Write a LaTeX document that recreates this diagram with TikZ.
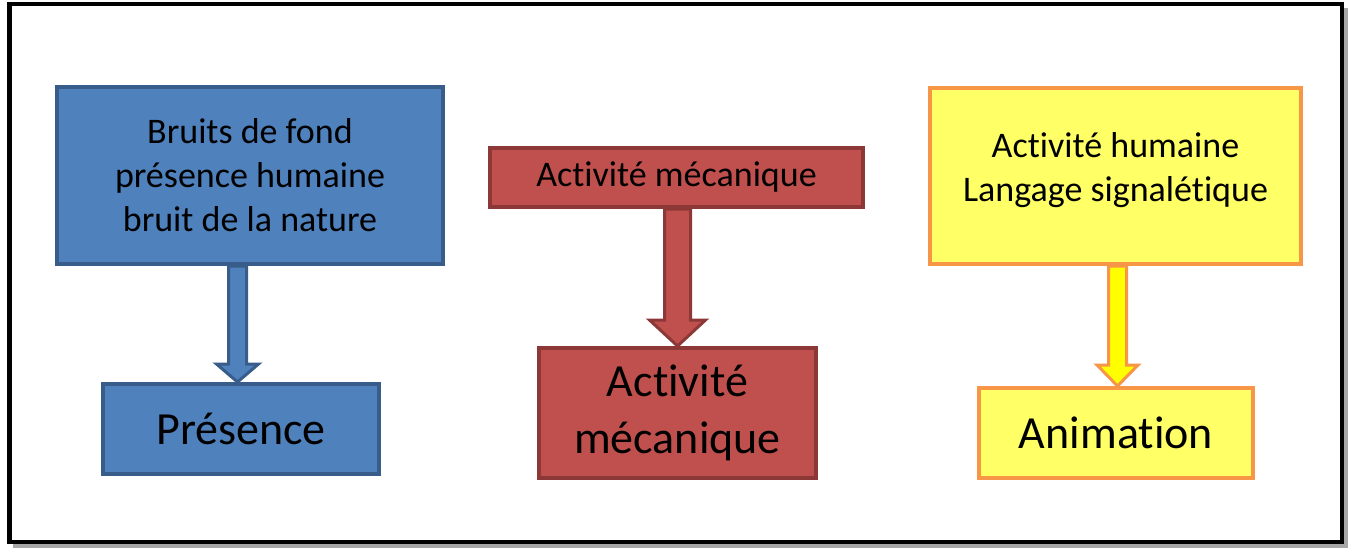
\documentclass[tikz,border=0pt]{standalone}
\usepackage{fontspec}
\setmainfont{Carlito}[Ligatures=NoCommon]
\usetikzlibrary{calc}
\definecolor{bluefill}{HTML}{4F81BD}
\definecolor{blueline}{HTML}{385D8A}
\definecolor{redfill}{HTML}{C0504D}
\definecolor{redline}{HTML}{8C3836}
\definecolor{yelfill}{HTML}{FFFF66}
\definecolor{yelarrow}{HTML}{FFFF00}
\definecolor{orangeline}{HTML}{F79646}
\definecolor{framegray}{HTML}{A6A6A6}
\begin{document}
\begin{tikzpicture}[x=1pt,y=-1pt,
  box/.style={draw, rectangle, align=center, inner sep=0pt, text=black, line width=4pt},
  small/.style={font=\fontsize{36}{44}\selectfont},
  big/.style={font=\fontsize{46}{57}\selectfont},
  bluebox/.style={box, fill=bluefill, draw=blueline},
  redbox/.style={box, fill=redfill, draw=redline},
  yelbox/.style={box, fill=yelfill, draw=orangeline},
  bluearrow/.style={fill=bluefill, draw=blueline, line width=3pt, line join=miter},
  redarrow/.style={fill=redfill, draw=redline, line width=3pt, line join=miter},
  yelarrowst/.style={fill=yelarrow, draw=orangeline, line width=3pt, line join=miter}
]
\useasboundingbox (0,0) rectangle (1348,549);
% frame with shadow
\fill[framegray] (13,8) rectangle (1347.5,548);
\filldraw[fill=white, draw=black, line width=4.5pt] (9.5,4) rectangle (1342,542);

% boxes
\node[bluebox, small, minimum width=386, minimum height=177] (A) at (250,175.5)
  {Bruits de fond\\présence humaine\\bruit de la nature};
\node[bluebox, big, minimum width=276, minimum height=90] (B) at (241,429) {Présence};

\node[redbox, small, minimum width=373, minimum height=59] (C) at (676.5,177.5) {Activité mécanique};
\node[redbox, big, minimum width=277, minimum height=130] (D) at (677.5,413) {Activité\\mécanique};

\node[yelbox, minimum width=371, minimum height=176] (E) at (1115.5,176) {};
\node[small, align=center, inner sep=0pt, text=black] (Etext) at ($(E.center)+(0,-6)$)
  {Activité humaine\\Langage signalétique};
\node[yelbox, big, minimum width=274, minimum height=90] (F) at (1116,433) {Animation};

% block arrows
\coordinate (ab1) at ($(A.south)+(-12.5,0)$);
\coordinate (ab2) at ($(B.north)+(-3.5,0)$);
\filldraw[bluearrow] ($(ab1)+(-9,0)$) -- ($(ab2)+(-9,-18)$) -- ($(ab2)+(-21,-18)$) -- (ab2)
  -- ($(ab2)+(21,-18)$) -- ($(ab2)+(9,-18)$) -- ($(ab1)+(9,0)$) -- cycle;

\coordinate (cd1) at ($(C.south)+(1,0)$);
\coordinate (cd2) at (D.north);
\filldraw[redarrow] ($(cd1)+(-13,0)$) -- ($(cd2)+(-13,-26)$) -- ($(cd2)+(-28,-26)$) -- (cd2)
  -- ($(cd2)+(28,-26)$) -- ($(cd2)+(13,-26)$) -- ($(cd1)+(13,0)$) -- cycle;

\coordinate (ef1) at ($(E.south)+(2,0)$);
\coordinate (ef2) at ($(F.north)+(1.5,0)$);
\filldraw[yelarrowst] ($(ef1)+(-9,0)$) -- ($(ef2)+(-9,-21)$) -- ($(ef2)+(-20.5,-21)$) -- (ef2)
  -- ($(ef2)+(20.5,-21)$) -- ($(ef2)+(9,-21)$) -- ($(ef1)+(9,0)$) -- cycle;
\end{tikzpicture}
\end{document}
